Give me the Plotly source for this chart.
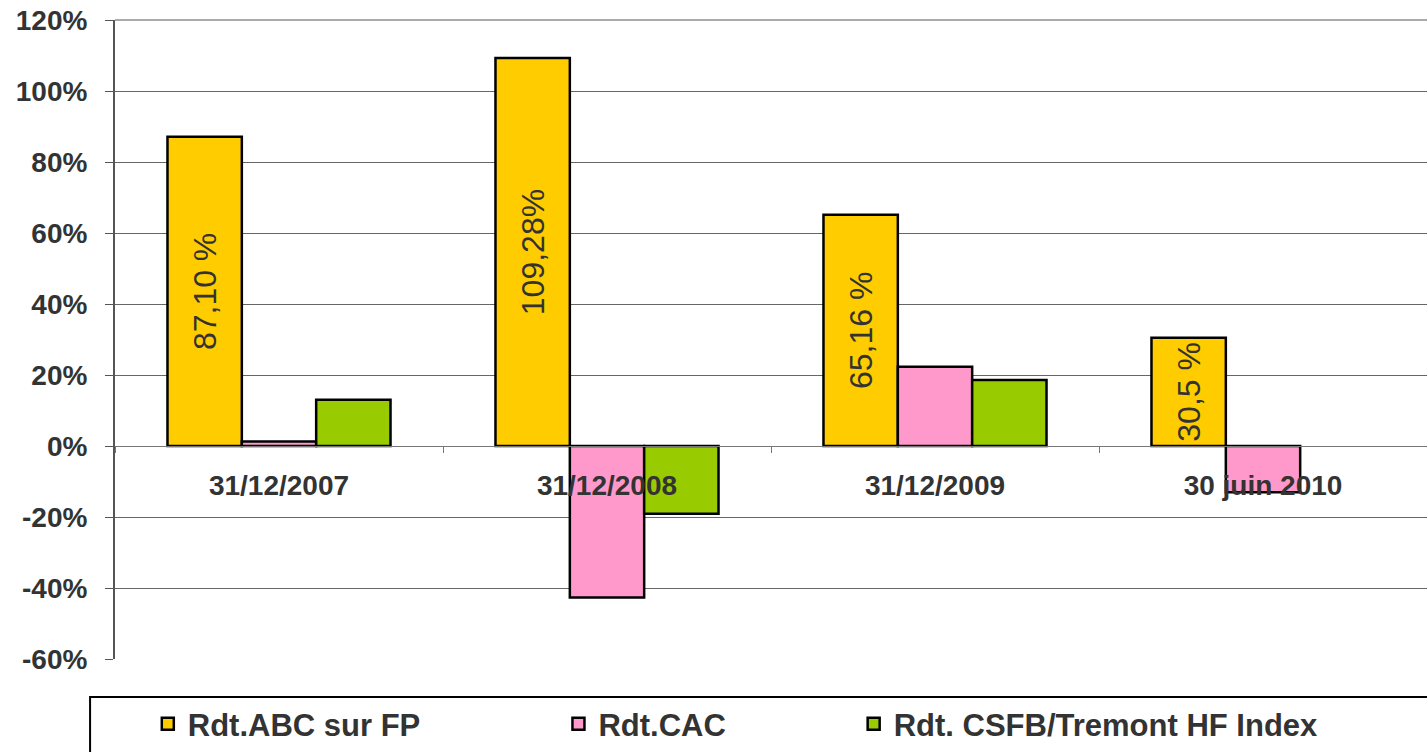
import plotly.graph_objects as go

categories = ["31/12/2007", "31/12/2008", "31/12/2009", "30 juin 2010"]
abc_values = [87.10, 109.28, 65.16, 30.5]
abc_labels = ["87,10 %", "109,28%", "65,16 %", "30,5 %"]
cac_values = [1.3, -42.7, 22.3, -13.0]
csfb_values = [13.0, -19.1, 18.6, None]
series_names = ["Rdt.ABC sur FP", "Rdt.CAC", "Rdt. CSFB/Tremont HF Index"]
tick_vals = [-60, -40, -20, 0, 20, 40, 60, 80, 100, 120]
tick_labels = ["-60%", "-40%", "-20%", "0%", "20%", "40%", "60%", "80%", "100%", "120%"]

FONT = "Liberation Sans, Arial, sans-serif"
line = dict(color="black", width=2.5)

fig = go.Figure()
fig.add_trace(go.Bar(
    x=categories, y=abc_values, name=series_names[0], legend="legend",
    marker=dict(color="#FFCC00", line=line),
    text=abc_labels, textposition="inside", insidetextanchor="middle",
    textangle=-90, constraintext="none",
    textfont=dict(family=FONT, size=32, color="#333333"),
))
fig.add_trace(go.Bar(
    x=categories, y=cac_values, name=series_names[1], legend="legend2",
    marker=dict(color="#FF99CC", line=line),
))
fig.add_trace(go.Bar(
    x=categories, y=csfb_values, name=series_names[2], legend="legend3",
    marker=dict(color="#99CC00", line=line),
))

legend_font = dict(family=FONT, size=31, color="#333333", weight="bold")
def legend_at(x):
    return dict(orientation="h", x=x, y=-0.102, xanchor="left", yanchor="middle",
                font=legend_font, bgcolor="rgba(0,0,0,0)")

fig.update_layout(
    width=1427, height=752,
    margin=dict(l=115, r=0, t=20, b=93, autoexpand=False),
    paper_bgcolor="white", plot_bgcolor="white",
    barmode="group", bargap=0.32, bargroupgap=0,
    font=dict(family=FONT, color="#333333"),
    showlegend=True,
    legend=legend_at(0.025),
    legend2=legend_at(0.338),
    legend3=legend_at(0.563),
    xaxis=dict(
        type="category", anchor="free", position=1/3,
        showline=True, linecolor="#777777", linewidth=1,
        ticks="outside", tickson="boundaries", ticklen=6, tickcolor="#777777",
        showgrid=False, zeroline=False,
        tickfont=dict(family=FONT, size=28, color="#333333", weight="bold"),
        ticklabelstandoff=14,
    ),
    yaxis=dict(
        range=[-60, 120], tickvals=tick_vals, ticktext=tick_labels,
        showgrid=True, gridcolor="#666666", gridwidth=1,
        zeroline=False,
        showline=True, linecolor="#555555", linewidth=2,
        ticks="outside", ticklen=8, tickcolor="#555555",
        tickfont=dict(family=FONT, size=28, color="#333333", weight="bold"),
        ticklabelstandoff=12, ticklabeloverflow="allow",
    ),
    shapes=[
        dict(type="rect", xref="paper", yref="paper",
             x0=-0.019, x1=1.02, y0=-0.0595, y1=-0.25,
             line=dict(color="black", width=2), fillcolor="rgba(0,0,0,0)", layer="below"),
        dict(type="line", xref="paper", yref="paper",
             x0=0, x1=1, y0=1, y1=1, line=dict(color="#AAAAAA", width=2)),
    ],
)

fig.write_html("out.html", config={"displayModeBar": False},
               post_script="document.body.style.margin='0px';")
